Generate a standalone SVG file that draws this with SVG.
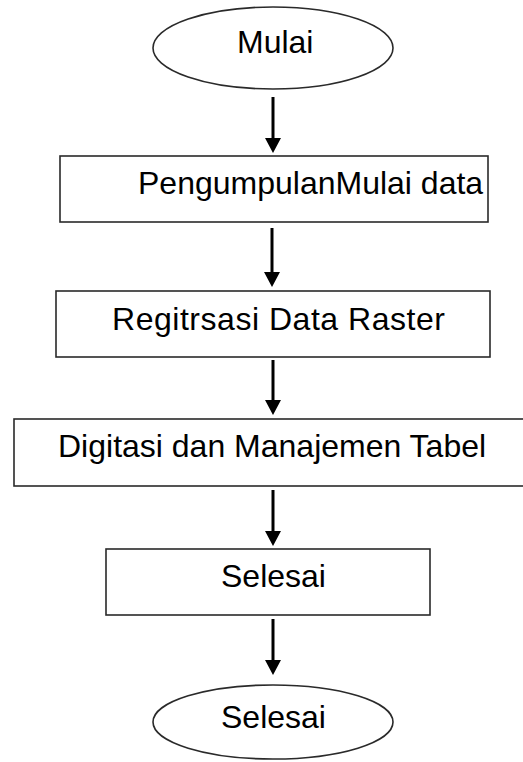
<svg xmlns="http://www.w3.org/2000/svg" width="523" height="762" viewBox="0 0 523 762">
  <style>
    .shape { fill: #ffffff; stroke: #2a2a2a; stroke-width: 1.6; }
    .label { font-family: "Liberation Sans", Arial, sans-serif; font-size: 32px; fill: #000000; }
    .conn { stroke: #000000; stroke-width: 3; fill: none; }
  </style>
  <defs>
    <marker id="arrow" viewBox="0 -8 15 16" refX="3" refY="0" markerWidth="15" markerHeight="16" markerUnits="userSpaceOnUse" orient="auto">
      <path d="M0,-8 L15,0 L0,8 z" fill="#000000"/>
    </marker>
  </defs>
  <rect width="523" height="762" fill="#ffffff"/>
  <g id="start">
    <ellipse class="shape" cx="273" cy="48" rx="120" ry="41"/>
    <text class="label" x="237" y="53" font-size="31">Mulai</text>
  </g>
  <g id="pengumpulan">
    <rect class="shape" x="60" y="156" width="428" height="66"/>
    <text class="label" x="138" y="194">PengumpulanMulai data</text>
  </g>
  <g id="registrasi">
    <rect class="shape" x="56" y="291" width="434" height="66"/>
    <text class="label" x="112" y="330" textLength="333">Regitrsasi Data Raster</text>
  </g>
  <g id="digitasi">
    <rect class="shape" x="14" y="419" width="520" height="67"/>
    <text class="label" x="58" y="457">Digitasi dan Manajemen Tabel</text>
  </g>
  <g id="selesai-box">
    <rect class="shape" x="106" y="549" width="324" height="66"/>
    <text class="label" x="221" y="587" font-size="31">Selesai</text>
  </g>
  <g id="end">
    <ellipse class="shape" cx="273" cy="722" rx="120" ry="37"/>
    <text class="label" x="221" y="728" font-size="31">Selesai</text>
  </g>
  <g id="connectors">
    <line class="conn" x1="273" y1="97" x2="273" y2="141" marker-end="url(#arrow)"/>
    <line class="conn" x1="272" y1="228" x2="272" y2="275" marker-end="url(#arrow)"/>
    <line class="conn" x1="273" y1="360" x2="273" y2="403" marker-end="url(#arrow)"/>
    <line class="conn" x1="273" y1="490" x2="273" y2="534" marker-end="url(#arrow)"/>
    <line class="conn" x1="273" y1="619" x2="273" y2="663" marker-end="url(#arrow)"/>
  </g>
</svg>
